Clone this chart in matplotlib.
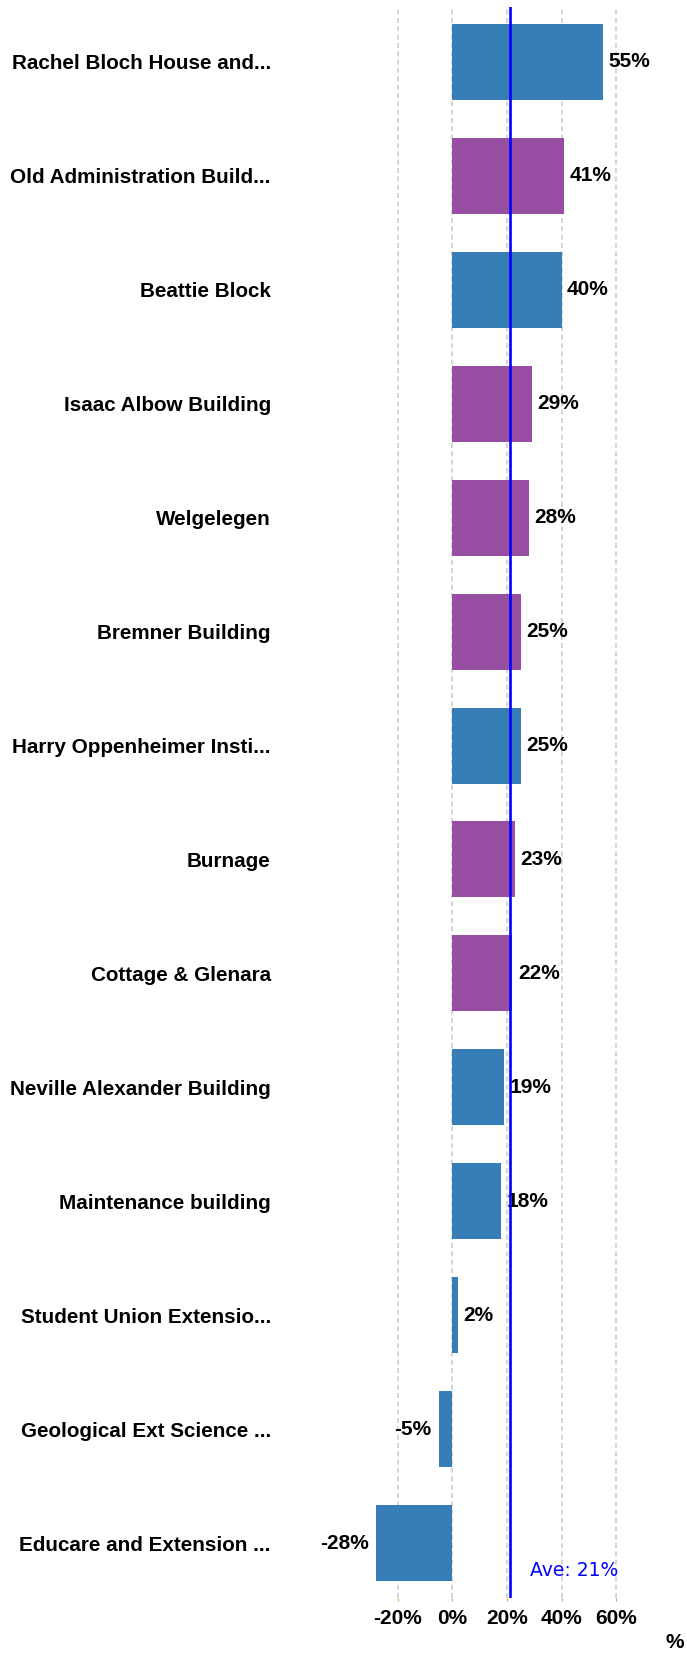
import matplotlib
matplotlib.use("Agg")
import matplotlib.pyplot as plt

# data
buildings = [
    "Rachel Bloch House and...",
    "Old Administration Build...",
    "Beattie Block",
    "Isaac Albow Building",
    "Welgelegen",
    "Bremner Building",
    "Harry Oppenheimer Insti...",
    "Burnage",
    "Cottage & Glenara",
    "Neville Alexander Building",
    "Maintenance building",
    "Student Union Extensio...",
    "Geological Ext Science ...",
    "Educare and Extension ...",
]
pct = [55, 41, 40, 29, 28, 25, 25, 23, 22, 19, 18, 2, -5, -28]
group = ["b", "p", "b", "p", "p", "p", "b", "p", "p", "b", "b", "b", "b", "b"]
average = 21
xticks = [-20, 0, 20, 40, 60]

palette = {"b": "#377eb8", "p": "#984ea3"}
colors = [palette[g] for g in group]

plt.rcParams["font.family"] = ["Liberation Sans", "DejaVu Sans"]

fig = plt.figure(figsize=(6.87, 16.54), dpi=100)
ax = fig.add_axes([0.4994, 1 - 1598 / 1654, 0.9446 - 0.4994, (1598 - 7) / 1654])

y = list(range(len(buildings)))
ax.barh(y, pct, height=0.667, color=colors, zorder=2)

for yi, v in zip(y, pct):
    if v >= 0:
        ax.annotate(f"{v}%", (v, yi), xytext=(4, 0), textcoords="offset points",
                    ha="left", va="center", fontsize=15, fontweight="bold")
    else:
        ax.annotate(f"{v}%", (v, yi), xytext=(-5, 0), textcoords="offset points",
                    ha="right", va="center", fontsize=15, fontweight="bold")

ax.axvline(average, color="#0000ff", lw=1.9, zorder=3)
ax.text(average + 7.5, 13.24, f"Ave: {average}%", color="#0000ff", fontsize=13.5,
        family="DejaVu Sans", ha="left", va="center")

ax.set_xlim(-40, 72)
ax.set_ylim(13.48, -0.48)
ax.set_xticks(xticks)
ax.set_xticklabels([f"{t}%" for t in xticks], fontsize=15, fontweight="bold")
ax.set_yticks(y)
ax.set_yticklabels(buildings, fontsize=14.9, fontweight="bold")
ax.tick_params(axis="y", length=0, pad=52)
ax.tick_params(axis="x", length=2, color="#ff9933", pad=6)
ax.grid(axis="x", linestyle=(0, (3, 2)), color="#cccccc", lw=1.2, zorder=0)
for s in ax.spines.values():
    s.set_visible(False)

fig.text(0.995, 1 - 1643 / 1654, "%", ha="right", va="center",
         fontsize=15, fontweight="bold")

fig.savefig("out.png", dpi=100)
